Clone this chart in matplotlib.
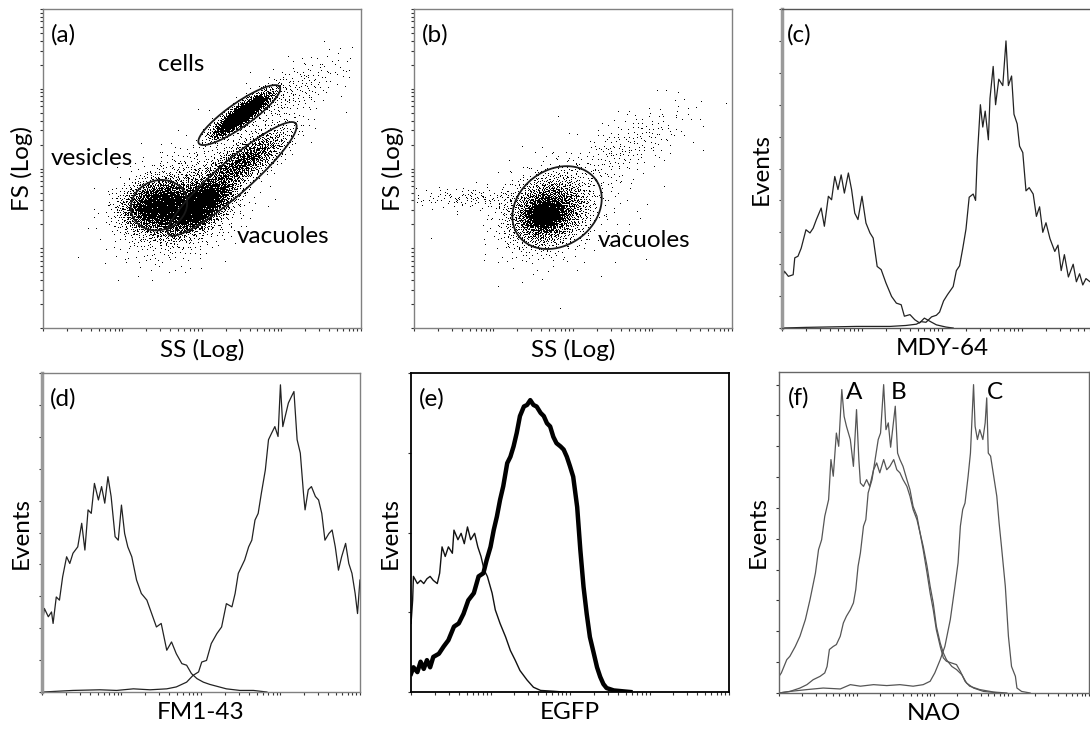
import numpy as np
import matplotlib
matplotlib.use('Agg')
import matplotlib.pyplot as plt
from matplotlib.ticker import LogLocator, NullFormatter, MultipleLocator

plt.rcParams['font.family'] = ['Lato', 'DejaVu Sans']

# ---------------- datos (posiciones en décadas logarítmicas, 0 a 4) ----------------
# (a) poblaciones del diagrama SS/FS: centro, dispersión (eje mayor, menor), ángulo, eventos
a_cx = [2.50, 1.45, 1.95, 2.52, 1.75, 3.05]
a_cy = [2.67, 1.52, 1.52, 2.08, 1.55, 2.90]
a_s1 = [0.21, 0.22, 0.24, 0.33, 0.40, 0.45]
a_s2 = [0.055, 0.15, 0.12, 0.11, 0.28, 0.16]
a_ang = [36, 10, 35, 33, 30, 30]
a_n = [2600, 3000, 3500, 1500, 1600, 300]
# puertas (elipses) de (a): cells, vesicles, vacuoles
a_gx = [2.47, 1.46, 2.38]
a_gy = [2.67, 1.54, 1.87]
a_gw = [1.24, 0.72, 2.12]
a_gh = [0.30, 0.62, 0.42]
a_gang = [35, 20, 41]

# (b)
b_cx = [1.68, 1.64, 0.75, 2.65, 1.85]
b_cy = [1.45, 1.42, 1.62, 2.25, 1.50]
b_s1 = [0.26, 0.12, 0.45, 0.50, 0.50]
b_s2 = [0.20, 0.09, 0.07, 0.18, 0.38]
b_ang = [30, 20, 0, 30, 20]
b_n = [2500, 1200, 150, 250, 250]
b_gx, b_gy, b_gw, b_gh, b_gang = [1.80], [1.51], [1.20], [0.95], [35]

# (c) MDY-64
c_izq_x = [0.00, 0.03, 0.08, 0.14, 0.16, 0.20, 0.24, 0.30, 0.35, 0.39, 0.43, 0.49, 0.53, 0.58,
           0.62, 0.66, 0.70, 0.74, 0.78, 0.83, 0.87, 0.91, 0.95, 1.00, 1.05, 1.10, 1.14, 1.19,
           1.24, 1.30, 1.37, 1.43, 1.49, 1.53, 1.60, 1.66, 1.72, 1.78, 1.85, 1.93, 2.05, 2.14]
c_izq_y = [1.52, 1.78, 1.62, 1.67, 2.20, 2.25, 2.50, 3.08, 2.98, 3.13, 3.40, 3.76, 3.19, 4.13,
           4.02, 4.75, 4.34, 4.80, 4.23, 4.86, 4.34, 3.60, 3.40, 4.13, 3.29, 2.98, 2.82, 1.93,
           1.83, 1.41, 0.99, 0.78, 0.73, 0.37, 0.42, 0.26, 0.16, 0.31, 0.21, 0.10, 0.03, 0.00]
c_der_x = [0.00, 0.30, 0.93, 1.35, 1.55, 1.68, 1.74, 1.80, 1.87, 1.93, 1.97, 2.02, 2.07, 2.14,
           2.18, 2.22, 2.26, 2.30, 2.34, 2.39, 2.42, 2.44, 2.48, 2.51, 2.54, 2.58, 2.60, 2.64,
           2.67, 2.71, 2.76, 2.80, 2.83, 2.87, 2.90, 2.94, 2.97, 3.01, 3.05, 3.09, 3.14, 3.18,
           3.22, 3.26, 3.30, 3.35, 3.41, 3.45, 3.49, 3.53, 3.58, 3.64, 3.68, 3.72, 3.76, 3.80,
           3.85, 3.89, 4.00]
c_der_y = [0.00, 0.02, 0.05, 0.05, 0.08, 0.12, 0.20, 0.18, 0.35, 0.40, 0.50, 0.85, 1.05, 1.30,
           1.80, 1.95, 2.50, 3.10, 4.10, 4.20, 4.00, 5.30, 7.00, 6.30, 6.80, 5.90, 7.20, 8.20,
           7.00, 7.80, 7.60, 9.00, 7.60, 7.90, 6.70, 6.40, 5.70, 5.50, 4.30, 4.40, 4.20, 3.50,
           3.80, 3.00, 3.30, 2.80, 2.40, 2.60, 1.80, 2.30, 1.60, 2.00, 1.45, 1.70, 1.35, 1.55,
           1.45, 1.50, 1.40]

# (d) FM1-43
d_izq_x = [0.00, 0.03, 0.08, 0.12, 0.14, 0.18, 0.22, 0.26, 0.31, 0.35, 0.39, 0.45, 0.50, 0.54,
           0.58, 0.62, 0.66, 0.71, 0.75, 0.79, 0.83, 0.87, 0.92, 0.96, 1.00, 1.04, 1.08, 1.13,
           1.19, 1.25, 1.32, 1.38, 1.44, 1.50, 1.57, 1.63, 1.69, 1.76, 1.82, 1.88, 1.95, 2.03,
           2.11, 2.20, 2.32, 2.49, 2.66, 2.83]
d_izq_y = [2.04, 2.62, 2.36, 2.51, 2.15, 2.98, 2.88, 3.61, 4.24, 4.03, 4.35, 4.55, 5.29, 4.45,
           5.71, 5.60, 6.54, 6.02, 6.44, 5.92, 6.75, 6.13, 4.87, 4.76, 5.86, 4.97, 4.55, 4.24,
           3.51, 3.09, 2.88, 2.46, 2.04, 2.15, 1.31, 1.57, 1.20, 0.89, 0.84, 0.58, 0.42, 0.31,
           0.24, 0.18, 0.10, 0.05, 0.05, 0.00]
d_der_x = [0.00, 0.01, 0.39, 0.73, 0.94, 1.15, 1.36, 1.57, 1.69, 1.82, 1.90, 1.97, 2.01, 2.07,
           2.13, 2.20, 2.26, 2.32, 2.39, 2.43, 2.47, 2.51, 2.55, 2.60, 2.64, 2.68, 2.72, 2.76,
           2.81, 2.85, 2.89, 2.93, 2.97, 3.00, 3.03, 3.06, 3.10, 3.14, 3.17, 3.21, 3.25, 3.29,
           3.31, 3.35, 3.39, 3.44, 3.48, 3.52, 3.56, 3.61, 3.65, 3.69, 3.73, 3.77, 3.82, 3.86,
           3.90, 3.94, 3.97, 4.00]
d_der_y = [1.41, 0.00, 0.05, 0.07, 0.05, 0.10, 0.07, 0.10, 0.16, 0.31, 0.52, 0.63, 0.94, 0.99,
           1.52, 1.83, 2.04, 2.77, 2.67, 3.09, 3.72, 3.93, 4.14, 4.55, 4.76, 5.39, 5.60, 6.23,
           6.96, 7.91, 8.12, 8.32, 8.01, 9.63, 8.32, 8.64, 9.06, 9.27, 9.42, 7.91, 7.49, 6.23,
           5.71, 6.34, 6.44, 6.13, 6.02, 5.60, 4.76, 4.97, 5.08, 4.55, 3.82, 4.24, 4.66, 4.03,
           3.72, 3.09, 2.46, 3.51]

# (e) EGFP
e_fina_x = [0.00, 0.02, 0.03, 0.08, 0.12, 0.16, 0.20, 0.24, 0.28, 0.33, 0.36, 0.39, 0.43, 0.47,
            0.52, 0.54, 0.59, 0.63, 0.67, 0.71, 0.75, 0.80, 0.84, 0.88, 0.92, 0.96, 1.02, 1.06,
            1.12, 1.19, 1.25, 1.31, 1.37, 1.46, 1.54, 1.63, 1.79, 1.92]
e_fina_y = [0.86, 1.15, 1.45, 1.36, 1.40, 1.36, 1.42, 1.45, 1.40, 1.36, 1.49, 1.82, 1.70, 1.82,
            1.74, 2.03, 1.91, 1.99, 1.86, 2.07, 1.91, 1.99, 1.82, 1.70, 1.53, 1.45, 1.24, 1.03,
            0.86, 0.69, 0.52, 0.40, 0.27, 0.15, 0.06, 0.02, 0.01, 0.00]
e_gruesa_x = [0.00, 0.03, 0.08, 0.12, 0.16, 0.20, 0.24, 0.28, 0.35, 0.41, 0.47, 0.54, 0.60, 0.66,
              0.72, 0.79, 0.85, 0.91, 0.95, 1.00, 1.04, 1.08, 1.12, 1.16, 1.21, 1.25, 1.29, 1.33,
              1.37, 1.42, 1.46, 1.50, 1.54, 1.58, 1.63, 1.67, 1.71, 1.75, 1.79, 1.83, 1.88, 1.92,
              1.96, 2.00, 2.04, 2.09, 2.13, 2.17, 2.21, 2.25, 2.30, 2.34, 2.38, 2.42, 2.46, 2.55,
              2.76]
e_gruesa_y = [0.23, 0.31, 0.25, 0.38, 0.29, 0.40, 0.31, 0.44, 0.48, 0.57, 0.65, 0.82, 0.86, 0.98,
              1.15, 1.24, 1.45, 1.49, 1.65, 1.82, 2.03, 2.20, 2.41, 2.58, 2.87, 2.95, 3.08, 3.25,
              3.46, 3.58, 3.60, 3.66, 3.60, 3.58, 3.50, 3.46, 3.37, 3.33, 3.20, 3.12, 3.08, 3.04,
              2.95, 2.83, 2.70, 2.32, 1.78, 1.32, 0.98, 0.69, 0.48, 0.31, 0.19, 0.10, 0.05, 0.02,
              0.00]

# (f) NAO, curvas A, B, C
f_a_x = [0.00, 0.03, 0.10, 0.14, 0.21, 0.27, 0.34, 0.40, 0.47, 0.51, 0.55, 0.59, 0.64, 0.67,
         0.70, 0.74, 0.77, 0.81, 0.84, 0.87, 0.92, 0.96, 1.00, 1.03, 1.05, 1.09, 1.13, 1.17,
         1.22, 1.26, 1.30, 1.35, 1.39, 1.43, 1.48, 1.52, 1.56, 1.60, 1.65, 1.69, 1.73, 1.78,
         1.82, 1.86, 1.91, 1.95, 1.99, 2.03, 2.08, 2.12, 2.16, 2.23, 2.29, 2.36, 2.42, 2.51,
         2.64, 2.85]
f_a_y = [0.54, 0.65, 1.08, 1.19, 1.51, 1.84, 2.38, 3.03, 3.89, 4.65, 4.97, 5.73, 6.27, 7.57,
         7.03, 8.43, 8.00, 9.84, 8.97, 8.65, 8.22, 7.35, 9.19, 7.57, 6.81, 6.70, 6.92, 6.70,
         7.24, 7.46, 7.14, 7.57, 7.24, 7.35, 7.57, 7.24, 7.14, 6.92, 6.70, 6.38, 5.95, 5.62,
         5.19, 4.76, 4.11, 3.46, 2.92, 2.16, 1.62, 1.30, 1.08, 0.86, 0.76, 0.59, 0.32, 0.16,
         0.05, 0.00]
f_b_x = [0.00, 0.14, 0.27, 0.36, 0.44, 0.53, 0.59, 0.62, 0.65, 0.70, 0.74, 0.79, 0.83, 0.87,
         0.92, 0.96, 0.99, 1.02, 1.05, 1.09, 1.12, 1.15, 1.20, 1.24, 1.28, 1.31, 1.35, 1.38,
         1.41, 1.44, 1.48, 1.50, 1.53, 1.56, 1.60, 1.65, 1.69, 1.73, 1.78, 1.82, 1.86, 1.91,
         1.95, 1.99, 2.03, 2.08, 2.12, 2.16, 2.23, 2.29, 2.34, 2.40, 2.46, 2.59, 2.77, 2.94]
f_b_y = [0.00, 0.05, 0.16, 0.27, 0.43, 0.54, 0.65, 0.86, 1.41, 1.51, 1.57, 1.84, 2.27, 2.49,
         2.70, 2.92, 3.35, 4.11, 4.54, 5.41, 5.62, 6.49, 6.92, 7.57, 8.22, 8.43, 10.0, 8.54,
         8.76, 7.97, 8.86, 9.30, 7.78, 7.57, 7.35, 6.92, 6.59, 6.05, 5.73, 5.19, 4.65, 3.89,
         3.24, 2.70, 2.05, 1.51, 1.14, 1.03, 0.97, 0.92, 0.70, 0.38, 0.22, 0.11, 0.03, 0.00]
f_c_x = [0.00, 0.14, 0.36, 0.57, 0.79, 0.92, 1.05, 1.22, 1.39, 1.56, 1.73, 1.86, 1.95, 2.01,
         2.08, 2.14, 2.21, 2.27, 2.31, 2.34, 2.37, 2.40, 2.44, 2.47, 2.51, 2.53, 2.56, 2.59,
         2.63, 2.66, 2.68, 2.70, 2.73, 2.77, 2.81, 2.84, 2.87, 2.92, 2.96, 3.00, 3.05, 3.07,
         3.13, 3.24]
f_c_y = [0.00, 0.05, 0.11, 0.16, 0.13, 0.27, 0.22, 0.27, 0.24, 0.27, 0.22, 0.27, 0.38, 0.65,
         1.08, 1.51, 2.38, 3.46, 4.22, 5.41, 5.95, 6.16, 7.03, 7.78, 10.0, 8.65, 8.22, 8.54,
         8.22, 8.76, 9.57, 7.78, 7.68, 7.03, 6.38, 5.51, 4.76, 3.46, 1.84, 0.86, 0.54, 0.16,
         0.05, 0.00]
f_letras = ['A', 'B', 'C']
f_letras_x = [0.97, 1.54, 2.79]

FS = 17.5


def halton(n, base, inicio):
    # secuencia cuasi-aleatoria determinista (sin números aleatorios)
    i = np.arange(inicio, inicio + n)
    res = np.zeros(n)
    f = 1.0
    while np.any(i > 0):
        f /= base
        res += f * (i % base)
        i = i // base
    return res


def nube(cx, cy, s1, s2, ang, n, inicio):
    u = halton(n, 2, inicio)
    v = halton(n, 3, inicio)
    r = np.sqrt(-2 * np.log(u))
    z1 = r * np.cos(2 * np.pi * v)
    z2 = r * np.sin(2 * np.pi * v)
    a = np.radians(ang)
    dx = s1 * z1 * np.cos(a) - s2 * z2 * np.sin(a)
    dy = s1 * z1 * np.sin(a) + s2 * z2 * np.cos(a)
    return 10 ** (cx + dx), 10 ** (cy + dy)


def puerta(ax, cx, cy, w, h, ang):
    t = np.linspace(0, 2 * np.pi, 300)
    a = np.radians(ang)
    x = cx + w / 2 * np.cos(t) * np.cos(a) - h / 2 * np.sin(t) * np.sin(a)
    y = cy + w / 2 * np.cos(t) * np.sin(a) + h / 2 * np.sin(t) * np.cos(a)
    ax.plot(10 ** x, 10 ** y, color='#1a1a1a', lw=1.3)


def ejes(ax, log_y, ymax=None, color_marco='#808080'):
    ax.set_xscale('log')
    ax.set_xlim(1, 1e4)
    ax.xaxis.set_major_locator(LogLocator(base=10, numticks=10))
    ax.xaxis.set_minor_locator(LogLocator(base=10, subs=np.arange(2, 10), numticks=100))
    ax.xaxis.set_major_formatter(NullFormatter())
    ax.xaxis.set_minor_formatter(NullFormatter())
    if log_y:
        ax.set_yscale('log')
        ax.set_ylim(1, 1e4)
        ax.yaxis.set_major_locator(LogLocator(base=10, numticks=10))
        ax.yaxis.set_minor_locator(LogLocator(base=10, subs=np.arange(2, 10), numticks=100))
        ax.yaxis.set_major_formatter(NullFormatter())
        ax.yaxis.set_minor_formatter(NullFormatter())
    else:
        ax.set_ylim(0, ymax)
        ax.yaxis.set_major_locator(MultipleLocator(1))
        ax.yaxis.set_major_formatter(NullFormatter())
    ax.tick_params(which='both', direction='out', length=2.5, width=0.8, color='#333333',
                   labelbottom=False, labelleft=False)
    for s in ax.spines.values():
        s.set_color(color_marco)
        s.set_linewidth(1.0)


def dispersion(ax, cx, cy, s1, s2, ang, n, gx, gy, gw, gh, gang, base_inicio):
    for k in range(len(cx)):
        x, y = nube(cx[k], cy[k], s1[k], s2[k], ang[k], n[k], base_inicio + 5003 * k)
        ax.plot(x, y, marker=',', linestyle='none', color='black')
    for k in range(len(gx)):
        puerta(ax, gx[k], gy[k], gw[k], gh[k], gang[k])
    ax.set_xlabel('SS (Log)', fontsize=FS, labelpad=5)
    ax.set_ylabel('FS (Log)', fontsize=FS, labelpad=5)


def hist(ax, xs, ys, color='#222222', lw=0.9):
    ax.plot(10 ** np.array(xs), ys, color=color, lw=lw)


fig = plt.figure(figsize=(10.9, 7.33), dpi=100)

# (a)
ax = fig.add_axes([0.0394, 0.5525, 0.2917, 0.4352])
ejes(ax, True)
dispersion(ax, a_cx, a_cy, a_s1, a_s2, a_ang, a_n, a_gx, a_gy, a_gw, a_gh, a_gang, 11)
ax.text(0.025, 0.952, '(a)', transform=ax.transAxes, fontsize=FS, va='top')
ax.text(10 ** 1.74, 10 ** 3.30, 'cells', fontsize=FS, ha='center', va='center')
ax.text(10 ** 0.10, 10 ** 2.12, 'vesicles', fontsize=FS, ha='left', va='center')
ax.text(10 ** 2.44, 10 ** 1.15, 'vacuoles', fontsize=FS, ha='left', va='center')

# (b)
ax = fig.add_axes([0.3798, 0.5525, 0.2917, 0.4352])
ejes(ax, True)
dispersion(ax, b_cx, b_cy, b_s1, b_s2, b_ang, b_n, b_gx, b_gy, b_gw, b_gh, b_gang, 40001)
ax.text(0.025, 0.952, '(b)', transform=ax.transAxes, fontsize=FS, va='top')
ax.text(10 ** 2.31, 10 ** 1.10, 'vacuoles', fontsize=FS, ha='left', va='center')

# (c)
ax = fig.add_axes([0.7174, 0.5525, 0.2936, 0.4352])
ejes(ax, False, 10, color_marco='#555555')
ax.spines['left'].set_color('#9a9a9a')
ax.spines['left'].set_linewidth(2.5)
hist(ax, c_izq_x, c_izq_y)
hist(ax, c_der_x, c_der_y)
ax.text(0.015, 0.952, '(c)', transform=ax.transAxes, fontsize=FS, va='top')
ax.set_xlabel('MDY-64', fontsize=FS, labelpad=5)
ax.set_ylabel('Events', fontsize=FS, labelpad=5)

# (d)
ax = fig.add_axes([0.0385, 0.0559, 0.2917, 0.4352])
ejes(ax, False, 10, color_marco='#808080')
ax.spines['left'].set_color('#9a9a9a')
ax.spines['left'].set_linewidth(2.5)
hist(ax, d_izq_x, d_izq_y)
hist(ax, d_der_x, d_der_y)
ax.text(0.025, 0.952, '(d)', transform=ax.transAxes, fontsize=FS, va='top')
ax.set_xlabel('FM1-43', fontsize=FS, labelpad=5)
ax.set_ylabel('Events', fontsize=FS, labelpad=5)

# (e)
ax = fig.add_axes([0.3771, 0.0559, 0.2917, 0.4352])
ejes(ax, False, 4, color_marco='black')
for s in ax.spines.values():
    s.set_linewidth(1.3)
hist(ax, e_fina_x, e_fina_y, color='#111111', lw=1.0)
hist(ax, e_gruesa_x, e_gruesa_y, color='black', lw=3.2)
ax.text(0.025, 0.952, '(e)', transform=ax.transAxes, fontsize=FS, va='top')
ax.set_xlabel('EGFP', fontsize=FS, labelpad=5)
ax.set_ylabel('Events', fontsize=FS, labelpad=5)

# (f)
ax = fig.add_axes([0.7147, 0.0546, 0.2844, 0.4379])
ejes(ax, False, 10.41, color_marco='#666666')
hist(ax, f_a_x, f_a_y, color='#555555')
hist(ax, f_b_x, f_b_y, color='#555555')
hist(ax, f_c_x, f_c_y, color='#555555')
ax.text(0.03, 0.952, '(f)', transform=ax.transAxes, fontsize=FS, va='top')
for k in range(len(f_letras)):
    ax.text(10 ** f_letras_x[k], 9.75, f_letras[k], fontsize=FS, ha='center', va='center')
ax.set_xlabel('NAO', fontsize=FS, labelpad=5)
ax.set_ylabel('Events', fontsize=FS, labelpad=5)

fig.savefig('out.png', dpi=100)
